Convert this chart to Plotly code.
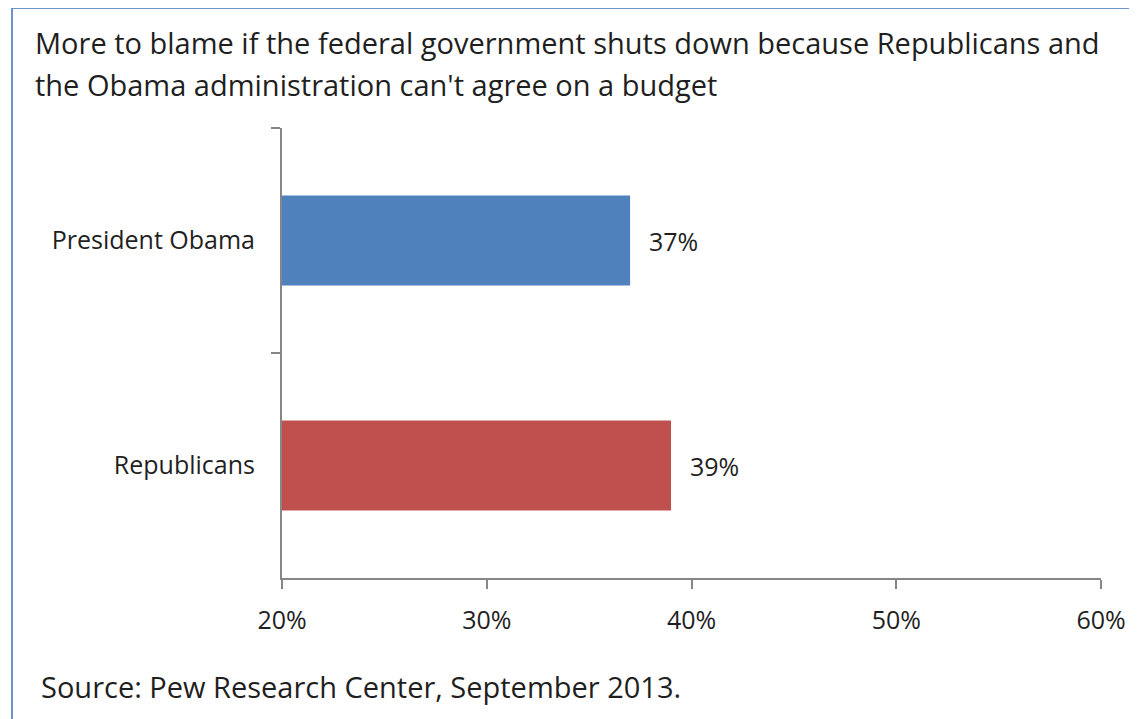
import plotly.graph_objects as go

categories = ["President Obama", "Republicans"]
values = [37, 39]
colors = ["#4F81BD", "#C0504D"]
x_ticks = [20, 30, 40, 50, 60]
x_tick_labels = ["20%", "30%", "40%", "50%", "60%"]
title_lines = ["More to blame if the federal government shuts down because Republicans and",
               "the Obama administration can't agree on a budget"]
source_text = "Source: Pew Research Center, September 2013."

OFF = 8  # page body margin offset
W, H = 1137, 719
L, T = 282 - OFF, 128 - OFF
pw, ph = 819, 450
R = W - L - pw
B = H - T - ph

def px(x):
    return (x - OFF - L) / pw

def py(y):
    return (T + ph - (y - OFF)) / ph

FONT = "Open Sans"
TXT = "#1f1f1f"

fig = go.Figure()
fig.add_trace(go.Bar(
    y=categories, x=values, base=0, orientation="h",
    marker=dict(color=colors, line=dict(width=0)),
    hoverinfo="skip",
))

for c, v in zip(categories, values):
    fig.add_annotation(x=v, y=c, xref="x", yref="y", text=f"{v}%",
                       showarrow=False, xanchor="left", xshift=17,
                       font=dict(family=FONT, size=25, color=TXT))

for i, line in enumerate(title_lines):
    fig.add_annotation(x=px(33), y=py(42 + 42 * i), xref="paper", yref="paper",
                       text=line, showarrow=False, xanchor="left", yanchor="middle",
                       align="left", font=dict(family=FONT, size=29, color=TXT))
fig.add_annotation(x=px(39), y=py(686), xref="paper", yref="paper",
                   text=source_text, showarrow=False, xanchor="left", yanchor="middle",
                   align="left", font=dict(family=FONT, size=29, color=TXT))

# outer frame lines (top and left)
fig.add_shape(type="line", xref="paper", yref="paper", x0=px(12), x1=px(W + 20),
              y0=py(8), y1=py(8), line=dict(color="#6E94C8", width=2))
fig.add_shape(type="line", xref="paper", yref="paper", x0=px(12), x1=px(12),
              y0=py(8), y1=py(H + 20), line=dict(color="#6E94C8", width=2))

fig.update_layout(
    width=W, height=H,
    margin=dict(l=L, r=R, t=T, b=B),
    paper_bgcolor="white", plot_bgcolor="white",
    showlegend=False,
    bargap=0.6,
    xaxis=dict(range=[20, 60], tickvals=x_ticks, ticktext=x_tick_labels,
               showgrid=False, zeroline=False, showline=True, linecolor="#868686",
               linewidth=2, ticks="outside", ticklen=9, tickcolor="#868686", tickwidth=2,
               ticklabelstandoff=10,
               tickfont=dict(family=FONT, size=25, color=TXT)),
    yaxis=dict(autorange=False, range=[1.5, -0.5], type="category",
               categoryorder="array", categoryarray=categories,
               showgrid=False, zeroline=False, showline=True, linecolor="#868686",
               linewidth=2, ticks="outside", ticklen=9, tickcolor="#868686", tickwidth=2,
               tickson="boundaries", ticklabelstandoff=20,
               tickfont=dict(family=FONT, size=25, color=TXT)),
)

fig.write_html("out.html")
